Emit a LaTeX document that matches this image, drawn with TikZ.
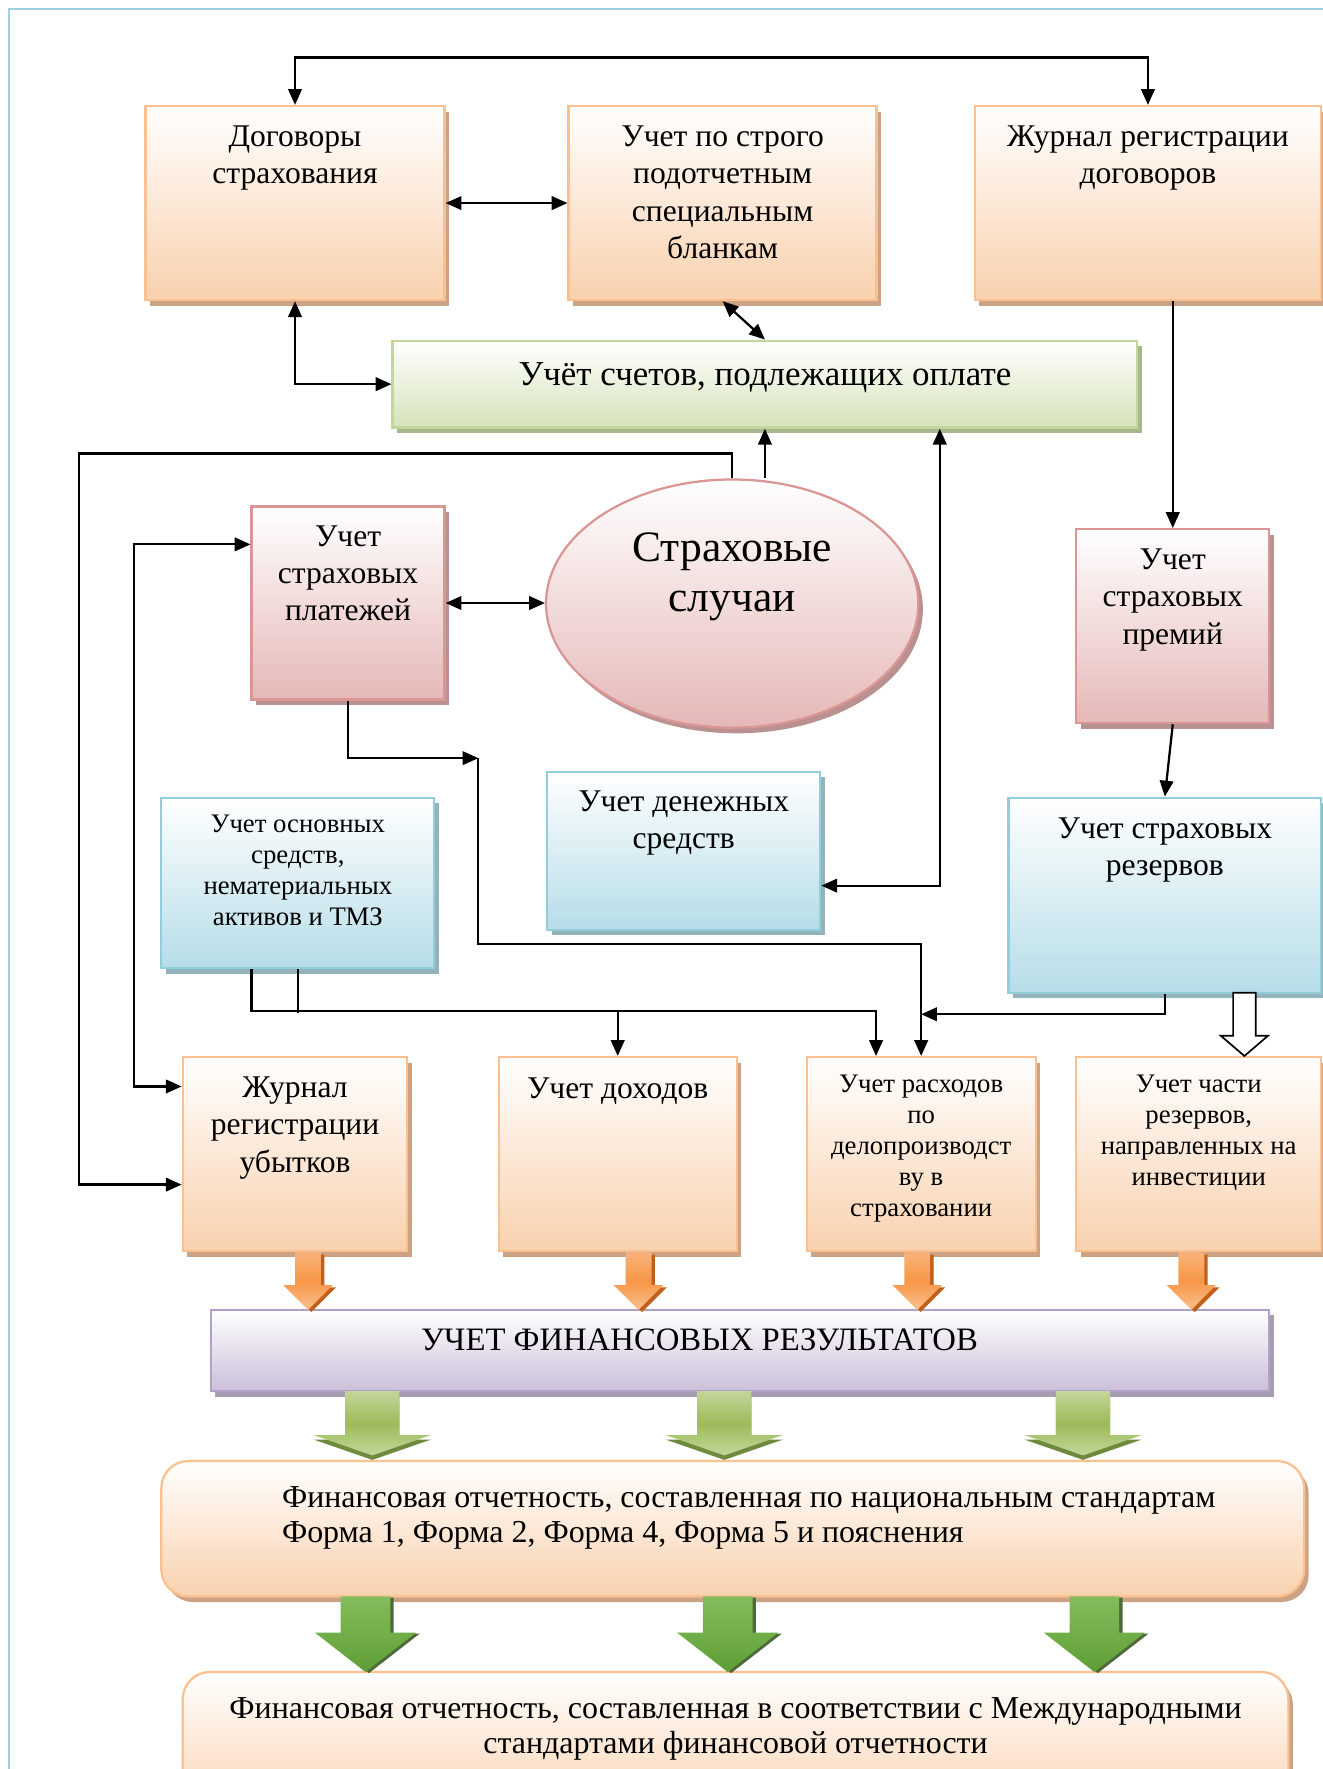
\documentclass[tikz,border=0pt]{standalone}
\usepackage{fontspec}
\setmainfont{Liberation Serif}
\usepackage{tikz}
\usetikzlibrary{arrows,arrows.meta,shapes,shadows,calc,positioning}

\definecolor{frameC}{HTML}{9BD1DE}
\definecolor{orBd}{HTML}{FAC08F}
\definecolor{orBt}{HTML}{F9D1AE}
\definecolor{orSh}{HTML}{CCA285}
\definecolor{grBd}{HTML}{C3D69B}
\definecolor{grBt}{HTML}{D5E3BA}
\definecolor{grSh}{HTML}{A9B78E}
\definecolor{pkBd}{HTML}{D99694}
\definecolor{pkBt}{HTML}{E5B8B7}
\definecolor{pkSh}{HTML}{B99190}
\definecolor{blBd}{HTML}{92CDDC}
\definecolor{blBt}{HTML}{B6DDE8}
\definecolor{blSh}{HTML}{92B2BC}
\definecolor{puBd}{HTML}{B2A1C7}
\definecolor{puBt}{HTML}{CBBFD9}
\definecolor{puSh}{HTML}{A69DB3}
\definecolor{oaTop}{HTML}{F9B27A}
\definecolor{oaMid}{HTML}{F79646}
\definecolor{oaSh}{HTML}{C0601A}
\definecolor{gaMid}{HTML}{9BBB59}
\definecolor{gaSh}{HTML}{6E8B3D}
\definecolor{daTop}{HTML}{84BD5C}
\definecolor{daBt}{HTML}{5E9E35}
\definecolor{daSh}{HTML}{4F6A3A}

\tikzset{
  box/.style={rectangle, anchor=north west, inner sep=0pt, line width=2pt},
  obox/.style={box, draw=orBd, top color=white, bottom color=orBt,
    drop shadow={shadow xshift=4pt, shadow yshift=-5pt, fill=orSh, opacity=1}},
  gbox/.style={box, draw=grBd, top color=white, bottom color=grBt,
    drop shadow={shadow xshift=4pt, shadow yshift=-5pt, fill=grSh, opacity=1}},
  pbox/.style={box, draw=pkBd, top color=white, bottom color=pkBt,
    drop shadow={shadow xshift=4pt, shadow yshift=-5pt, fill=pkSh, opacity=1}},
  bbox/.style={box, draw=blBd, top color=white, bottom color=blBt,
    drop shadow={shadow xshift=4pt, shadow yshift=-5pt, fill=blSh, opacity=1}},
  vbox/.style={box, draw=puBd, top color=white, bottom color=puBt,
    drop shadow={shadow xshift=4pt, shadow yshift=-5pt, fill=puSh, opacity=1}},
  rbox/.style={obox, rounded corners=24pt},
  txt/.style={align=center, inner sep=0pt, anchor=base, font=\fontsize{28}{33}\selectfont},
  stxt/.style={txt, font=\fontsize{23.7}{27.5}\selectfont},
  btxt/.style={txt, font=\fontsize{38.5}{44}\selectfont},
  wtxt/.style={txt, font=\fontsize{28.3}{31.5}\selectfont},
  oarr/.style={top color=oaTop, bottom color=orBd, middle color=oaMid,
    drop shadow={shadow xshift=3pt, shadow yshift=-2pt, fill=oaSh, opacity=1}},
  garr/.style={top color=grBd, bottom color=grBd, middle color=gaMid,
    drop shadow={shadow xshift=0pt, shadow yshift=-4pt, fill=gaSh, opacity=1}},
  darr/.style={top color=daTop, bottom color=daBt,
    drop shadow={shadow xshift=3pt, shadow yshift=-1pt, fill=daSh, opacity=1}},
}

\begin{document}
\begin{tikzpicture}[x=1pt, y=-1pt, line width=2pt, >={Triangle[length=14pt,width=12pt]}]
\useasboundingbox (0,0) rectangle (1172,1568);
\draw[frameC] (8,8) rectangle (1200,1600);

% top row
\node[obox, minimum width=265, minimum height=172] (dog) at (128,93) {};
\node[obox, minimum width=273, minimum height=172] (blank) at (503,93) {};
\node[obox, minimum width=307, minimum height=172] (jdog) at (863,93) {};
\node[gbox, minimum width=660, minimum height=77] (pay) at (347,301) {};

% middle
\node[ellipse, line width=2pt, draw=pkBd, top color=white, bottom color=pkBt,
  drop shadow={shadow xshift=4pt, shadow yshift=-5pt, fill=pkSh, opacity=1},
  minimum width=330, minimum height=220, inner sep=0pt] (case) at (649,535) {};
\node[pbox, minimum width=171, minimum height=171] (plat) at (222,448) {};
\node[pbox, minimum width=171, minimum height=172] (prem) at (953,468) {};
\node[bbox, minimum width=242, minimum height=140] (cash) at (484,683) {};
\node[bbox, minimum width=242, minimum height=151] (fix) at (142,706) {};
\node[bbox, minimum width=277, minimum height=173] (res) at (893,706) {};

% bottom row
\node[obox, minimum width=199, minimum height=172] (jloss) at (161,936) {};
\node[obox, minimum width=211, minimum height=172] (inc) at (441,936) {};
\node[obox, minimum width=203, minimum height=172] (exp) at (714,936) {};
\node[obox, minimum width=217, minimum height=172] (inv) at (953,936) {};
\node[vbox, minimum width=938, minimum height=72] (fin) at (186,1160) {};
\node[rbox, minimum width=1013, minimum height=120] (nat) at (142,1294) {};
\node[rbox, minimum width=980, minimum height=130] (ifrs) at (161,1481) {};

% texts (base = last line)
\node[txt] (dogT) at ($(dog.north)+(0,70)$) {Договоры\\страхования};
\node[txt] (blankT) at ($(blank.north)+(0,136)$) {Учет по строго\\подотчетным\\специальным\\бланкам};
\node[txt] (jdogT) at ($(jdog.north)+(0,70)$) {Журнал регистрации\\договоров};
\node[txt, font=\fontsize{31}{36}\selectfont] (payT) at ($(pay.north)+(0,41)$) {Учёт счетов, подлежащих оплате};
\node[btxt] (caseT) at ($(case.north)+(0,118)$) {Страховые\\случаи};
\node[txt] (platT) at ($(plat.north)+(0,102)$) {Учет\\страховых\\платежей};
\node[txt] (premT) at ($(prem.north)+(0,103)$) {Учет\\страховых\\премий};
\node[txt] (cashT) at ($(cash.north)+(0,69)$) {Учет денежных\\средств};
\node[stxt] (fixT) at ($(fix.north)+(0,114.5)$) {Учет основных\\средств,\\нематериальных\\активов и ТМЗ};
\node[txt] (resT) at ($(res.north)+(0,70)$) {Учет страховых\\резервов};
\node[txt] (jlossT) at ($(jloss.north)+(0,103)$) {Журнал\\регистрации\\убытков};
\node[txt] (incT) at ($(inc.north)+(0,38)$) {Учет доходов};
\node[stxt] (expT) at ($(exp.north)+(0,142)$) {Учет расходов\\по\\делопроизводст\\ву в\\страховании};
\node[stxt] (invT) at ($(inv.north)+(0,114.5)$) {Учет части\\резервов,\\направленных на\\инвестиции};
\node[txt, font=\fontsize{29}{34}\selectfont] (finT) at ($(fin.north)+(-36,37)$) {УЧЕТ ФИНАНСОВЫХ РЕЗУЛЬТАТОВ};
\node[wtxt, anchor=base west, align=left] (natT) at ($(nat.north west)+(107,73.5)$)
  {Финансовая отчетность, составленная по национальным стандартам\\Форма 1, Форма 2, Форма 4, Форма 5 и пояснения};
\node[wtxt] (ifrsT) at ($(ifrs.north)+(0,73.5)$)
  {Финансовая отчетность, составленная в соответствии с Международными\\стандартами финансовой отчетности};

% connectors
\draw[<->] (dog.north) -- ++(0,-42) -| (jdog.north);
\draw[<->] (dog.east) -- (blank.west);
\draw[<->] (blank.south) -- (pay.north);
\draw[<->] (dog.south) |- (pay.west);
\draw[->] (prem.north |- jdog.south) -- (prem.north);
\draw[->] (prem.south) -- (res.north);
\draw[->] (case.north -| pay.south) -- (pay.south);
\draw[->] (case.north) -- ++(0,-22) -| (70,700) |- ($(jloss.west)+(0,27)$);
\draw[<->] (plat.east) -- (plat.east -| case.west);
\draw[<->] ($(plat.west)+(0,-52)$) -| (119,700) |- ($(jloss.west)+(0,-60)$);
\coordinate (knee) at (424,672);
\draw[->] (plat.south) |- (knee);
\draw[->] (knee) -- (424,837) -| (exp.north);
\draw[<->] ($(pay.south)+(155,0)$) |- ($(cash.east)+(0,31)$);
\draw (fix.south) -- ++(0,39);
\draw[->] ($(fix.south)+(-41,0)$) |- ($(exp.north)+(-40,-40)$) -- ($(exp.north)+(-40,0)$);
\draw[->] (inc.north |- 0,896) -- (inc.north);
\draw[->] (res.south) |- ($(exp.north)+(0,-37)$);
\draw[line width=1.5pt, fill=white] (1093,880) -- (1113,880) -- (1113,918) -- (1124,918)
  -- (1103,936) -- (1082,918) -- (1093,918) -- cycle;

% block arrows
\foreach \c in {273,566,813,1056}
  \shade[oarr] (\c-11.5,1110) -- (\c+11.5,1110) -- (\c+11.5,1139) -- (\c+22,1139)
    -- (\c,1161) -- (\c-22,1139) -- (\c-11.5,1139) -- cycle;
\foreach \c in {330,642,960}
  \shade[garr] (\c-24,1233) -- (\c+24,1233) -- (\c+24,1272) -- (\c+52,1272)
    -- (\c,1290) -- (\c-52,1272) -- (\c-24,1272) -- cycle;
\foreach \c in {324,645,970}
  \shade[darr] (\c-22,1415) -- (\c+22,1415) -- (\c+22,1447) -- (\c+45,1447)
    -- (\c,1482) -- (\c-45,1447) -- (\c-22,1447) -- cycle;
\end{tikzpicture}
\end{document}
